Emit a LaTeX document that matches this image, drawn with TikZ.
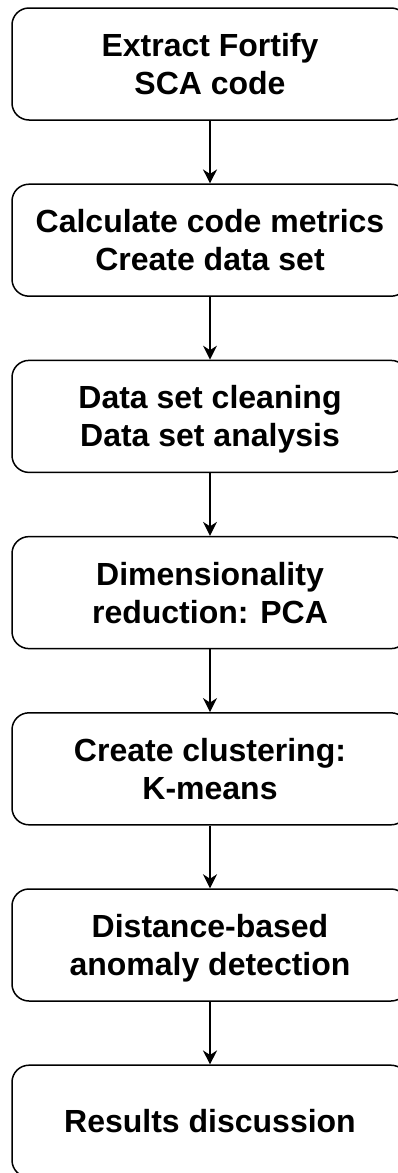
\documentclass[tikz,border=0pt]{standalone}
\usepackage{fontspec}
\setmainfont{Liberation Sans}
\usetikzlibrary{arrows.meta}
% one text line: cap height only, no depth, so lines centre on their capitals
\newcommand\capline[1]{\raisebox{0pt}[23pt][0pt]{#1}}
\tikzset{
  stepbox/.style={draw=black, line width=1.5pt, rounded corners=17pt,
    minimum width=396pt, minimum height=112pt, inner sep=0pt,
    align=center, font=\fontsize{32}{38}\selectfont\bfseries},
  flow/.style={draw=black, line width=1.5pt,
    -{Stealth[length=14pt, width=14pt, inset=4.5pt]}}
}
\begin{document}
\begin{tikzpicture}[x=1pt, y=1pt]
  \useasboundingbox (0,0) rectangle (398,-1173);
  \clip (0,0) rectangle (398,-1173);
  \node[stepbox] (s1) at (210,-64)    {\capline{Extract Fortify}\\\capline{SCA code}};
  \node[stepbox] (s2) at (210,-240.2) {\capline{Calculate code metrics}\\\capline{Create data set}};
  \node[stepbox] (s3) at (210,-416.4) {\capline{Data set cleaning}\\\capline{Data set analysis}};
  \node[stepbox] (s4) at (210,-592.6) {\capline{Dimensionality}\\\capline{reduction: PCA}};
  \node[stepbox] (s5) at (210,-768.8) {\capline{Create clustering:}\\\capline{K-means}};
  \node[stepbox] (s6) at (210,-945)   {\capline{Distance-based}\\\capline{anomaly detection}};
  \node[stepbox] (s7) at (210,-1121.2) {\capline{Results discussion}};
  \foreach \a/\b in {s1/s2, s2/s3, s3/s4, s4/s5, s5/s6, s6/s7}
    \draw[flow] (\a.south) -- (\b.north);
\end{tikzpicture}
\end{document}
